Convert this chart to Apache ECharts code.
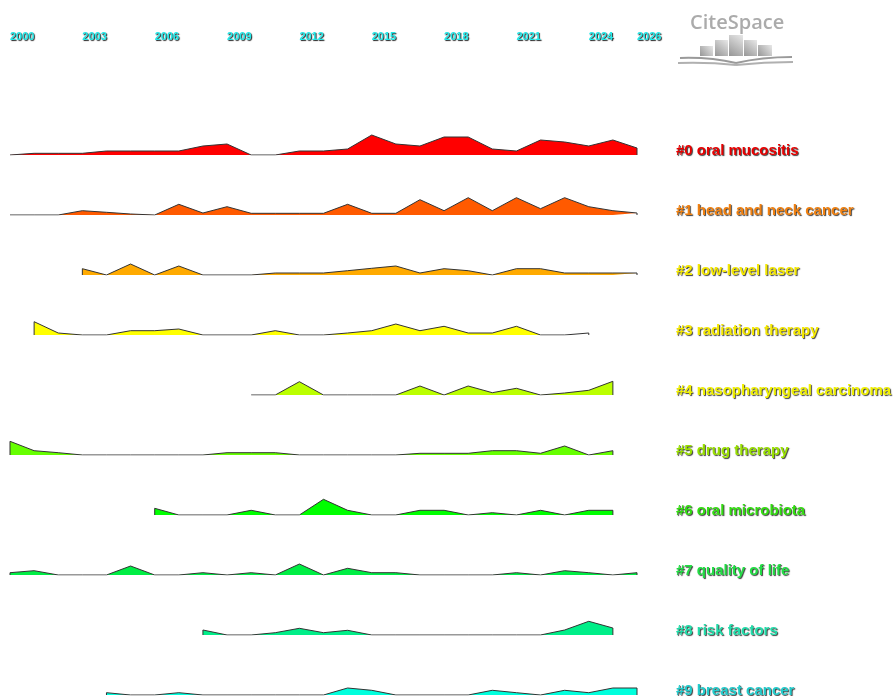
<!DOCTYPE html>
<html><head><meta charset="utf-8">
<script src="https://cdn.jsdelivr.net/npm/echarts@6/dist/echarts.min.js"></script>
<style>html,body{margin:0;padding:0;background:#fff}#c{width:893px;height:696px}</style>
</head><body><div id="c"></div>
<script>
const yearTicks = [2000, 2003, 2006, 2009, 2012, 2015, 2018, 2021, 2024, 2026];
const clusterNames = ['#0 oral mucositis', '#1 head and neck cancer', '#2 low-level laser', '#3 radiation therapy',
  '#4 nasopharyngeal carcinoma', '#5 drug therapy', '#6 oral microbiota', '#7 quality of life', '#8 risk factors', '#9 breast cancer'];
const startYears = [2000, 2000, 2003, 2001, 2010, 2000, 2006, 2000, 2008, 2004];
const c0 = [1.7,1.7,1.7,1.7,4,4,4,4,9,11,0,0,4,4,6,20,11,9,18,18,6,4,15,13,9,15,7];
const c1 = [1.7,0,0,4.3,2.7,1,0,10.7,2,8.3,1.7,1.7,1.7,1.7,10.7,1.7,1.7,15.3,4.3,17.3,4.3,17.3,6.3,17.3,8.3,4.3,2];
const c2 = [6.3,0,11,0,9,0,0,0,2,2,2,4.3,6.7,9,2,6.3,4.3,0,6.3,6.3,2,2,2,2];
const c3 = [13.3,2,0,0,4.3,4.3,6,0,0,0,4.3,0,0,2,4.3,11,4.3,8.7,2,2,8.7,0,0,2];
const c4 = [1.3,0,13.3,0,0,0,0,9,0,9,2.3,6.7,0,2,4.7,13.7];
const c5 = [13.7,4.3,2.3,0,0,0,0,0,0,2.3,2.3,2.3,0,0,0,0,0,1.7,1.7,1.7,4.3,4.3,1.7,9,0,4.3];
const c6 = [6.7,0,0,0,4.7,0,0,15.7,4.7,0,0,4.7,4.7,0,2.3,0,4.7,0,4.7,4.7];
const c7 = [2.3,4.3,0,0,0,9,0,0,2.3,0,2.3,0,11,0,6.7,2.3,2.3,0,0,0,0,2.3,0,4.3,2.3,0,2.3];
const c8 = [5,0,0,2.3,6.7,2.3,4.7,0,0,0,0,0,0,0,0,5,13.7,7];
const c9 = [2.3,0,0,2.3,0,0,0,0,0,0,7,4.7,0,0,0,0,4.7,2.3,0,4.7,2.3,7,7];
const clusterValues = [c0, c1, c2, c3, c4, c5, c6, c7, c8, c9];

const fillColors = ['#ff0000','#ff5a00','#ffaa00','#ffff00','#bbff00','#66ff00','#00ff00','#00ee44','#00ee88','#00ffdd'];
const labelColors = ['#e80000','#f08010','#f5e800','#f5e800','#f0f000','#99e000','#33dd11','#22dd44','#22ddaa','#22cccc'];

const chart = echarts.init(document.getElementById('c'));
const FONT = '"Liberation Sans", Arial, sans-serif';
const ROW0 = 155, ROWGAP = 60, H = 30, LEFT = 10, WIDTH = 627;

const grids = [], xAxes = [], yAxes = [], series = [], titles = [];
clusterValues.forEach((vals, i) => {
  const base = ROW0 + i * ROWGAP;
  grids.push({ left: LEFT, width: WIDTH, top: base - H, height: H });
  xAxes.push({ gridIndex: i, type: 'value', min: 2000, max: 2026, show: false });
  yAxes.push({ gridIndex: i, type: 'value', min: 0, max: H, show: false });
  const s = startYears[i];
  const data = [[s, 0]].concat(vals.map((v, k) => [s + k, v]));
  data.push([s + vals.length - 1, 0]);
  series.push({
    type: 'line', xAxisIndex: i, yAxisIndex: i, data: data, symbol: 'none', silent: true,
    lineStyle: { color: '#333', width: 1 },
    areaStyle: { color: fillColors[i], opacity: 1 },
    animation: false
  });
  titles.push({
    text: clusterNames[i], left: 676, top: base - 12, padding: 0,
    textStyle: { color: labelColors[i], fontSize: 15, fontWeight: 'bold', fontFamily: FONT, lineHeight: 15,
      textShadowColor: '#3a3a3a', textShadowOffsetX: 1, textShadowOffsetY: 1, textShadowBlur: 1 }
  });
});
// year axis at top
const gi = grids.length;
grids.push({ left: LEFT, width: WIDTH, top: 20, height: 10 });
xAxes.push({ gridIndex: gi, type: 'value', min: 2000, max: 2026, interval: 1, position: 'bottom',
  axisLine: { show: false }, axisTick: { show: false }, splitLine: { show: false },
  axisLabel: { show: true, margin: 1, align: 'left', fontSize: 11, fontWeight: 'bold', fontFamily: FONT,
    color: '#22e8e8', textShadowColor: '#222', textShadowOffsetX: 1, textShadowOffsetY: 1, textShadowBlur: 1,
    showMinLabel: true, showMaxLabel: true, hideOverlap: false,
    formatter: v => yearTicks.includes(v) ? String(v) : '' } });
yAxes.push({ gridIndex: gi, type: 'value', show: false });

const barGrad = new echarts.graphic.LinearGradient(0, 1, 1, 0, [
  { offset: 0, color: '#969696' }, { offset: 1, color: '#e8e8e8' }]);
const logo = [
  { type: 'text', left: 690, top: 13, style: { text: 'CiteSpace', font: '600 20px "Open Sans", sans-serif', fill: '#ababab' } },
  { type: 'rect', shape: { x: 700, y: 46, width: 13, height: 10 }, style: { fill: barGrad } },
  { type: 'rect', shape: { x: 715, y: 40, width: 13, height: 16 }, style: { fill: barGrad } },
  { type: 'rect', shape: { x: 729, y: 35, width: 14, height: 21 }, style: { fill: barGrad } },
  { type: 'rect', shape: { x: 744, y: 40, width: 13, height: 16 }, style: { fill: barGrad } },
  { type: 'rect', shape: { x: 758, y: 45, width: 14, height: 11 }, style: { fill: barGrad } },
  { type: 'bezierCurve', shape: { x1: 680, y1: 58, x2: 736, y2: 63, cpx1: 710, cpy1: 57 }, style: { stroke: '#9a9a9a', lineWidth: 2, fill: null } },
  { type: 'bezierCurve', shape: { x1: 736, y1: 63, x2: 792, y2: 57, cpx1: 762, cpy1: 57 }, style: { stroke: '#9a9a9a', lineWidth: 2, fill: null } },
  { type: 'bezierCurve', shape: { x1: 678, y1: 63, x2: 736, y2: 65, cpx1: 708, cpy1: 62 }, style: { stroke: '#b0b0b0', lineWidth: 2, fill: null } },
  { type: 'bezierCurve', shape: { x1: 736, y1: 65, x2: 793, y2: 62, cpx1: 764, cpy1: 62 }, style: { stroke: '#b0b0b0', lineWidth: 2, fill: null } }
];

chart.setOption({
  backgroundColor: '#fff',
  animation: false,
  title: titles,
  grid: grids,
  xAxis: xAxes,
  yAxis: yAxes,
  series: series,
  graphic: logo
});
</script></body></html>
